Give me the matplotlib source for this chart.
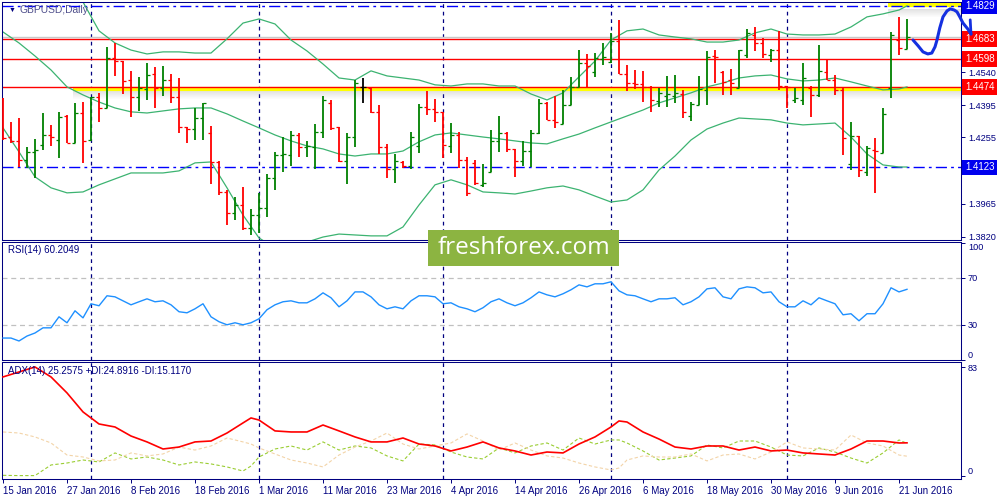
import numpy as np
import matplotlib
matplotlib.use("Agg")
import matplotlib.pyplot as plt
from matplotlib.patches import Rectangle
from matplotlib.transforms import blended_transform_factory

# GBPUSD daily, 15 Jan 2016 - 22 Jun 2016 (one entry per trading day)
highs = [1.4427, 1.4322, 1.4339, 1.4213, 1.4248, 1.4361, 1.4309, 1.4366, 1.4352, 1.4405,
         1.4409, 1.4431, 1.4449, 1.4650, 1.4667, 1.4588, 1.4545, 1.4519, 1.4580, 1.4562,
         1.4567, 1.4532, 1.4514, 1.4300, 1.4383, 1.4405, 1.4304, 1.4151, 1.4025, 1.3994,
         1.4038, 1.3942, 1.4012, 1.4095, 1.4191, 1.4256, 1.4283, 1.4274, 1.4239, 1.4313,
         1.4435, 1.4418, 1.4300, 1.4274, 1.4505, 1.4514, 1.4470, 1.4396, 1.4226, 1.4182,
         1.4151, 1.4278, 1.4401, 1.4457, 1.4422, 1.4366, 1.4317, 1.4278, 1.4169, 1.4156,
         1.4138, 1.4287, 1.4348, 1.4278, 1.4204, 1.4239, 1.4287, 1.4422, 1.4409, 1.4435,
         1.4462, 1.4519, 1.4636, 1.4619, 1.4623, 1.4667, 1.4711, 1.4768, 1.4571, 1.4549,
         1.4545, 1.4479, 1.4470, 1.4523, 1.4527, 1.4462, 1.4409, 1.4523, 1.4632, 1.4636,
         1.4545, 1.4553, 1.4636, 1.4728, 1.4737, 1.4689, 1.4641, 1.4720, 1.4479, 1.4470,
         1.4580, 1.4479, 1.4658, 1.4597, 1.4527, 1.4470, 1.4322, 1.4261, 1.4217, 1.4252,
         1.4383, 1.4715, 1.4781, 1.4772]
lows = [1.4243, 1.4230, 1.4125, 1.4121, 1.4077, 1.4199, 1.4217, 1.4165, 1.4230, 1.4230,
        1.4143, 1.4239, 1.4322, 1.4383, 1.4523, 1.4444, 1.4344, 1.4370, 1.4418, 1.4383,
        1.4435, 1.4405, 1.4274, 1.4230, 1.4243, 1.4243, 1.4051, 1.4003, 1.3872, 1.3894,
        1.3850, 1.3828, 1.3837, 1.3907, 1.4025, 1.4103, 1.4130, 1.4169, 1.4169, 1.4116,
        1.4252, 1.4287, 1.4147, 1.4051, 1.4213, 1.4405, 1.4361, 1.4182, 1.4077, 1.4055,
        1.4121, 1.4116, 1.4186, 1.4352, 1.4322, 1.4165, 1.4186, 1.4121, 1.3998, 1.4047,
        1.4038, 1.4103, 1.4191, 1.4191, 1.4082, 1.4130, 1.4125, 1.4269, 1.4331, 1.4296,
        1.4313, 1.4396, 1.4475, 1.4470, 1.4519, 1.4571, 1.4580, 1.4532, 1.4457, 1.4466,
        1.4409, 1.4366, 1.4387, 1.4387, 1.4405, 1.4339, 1.4326, 1.4396, 1.4396, 1.4492,
        1.4440, 1.4440, 1.4470, 1.4602, 1.4632, 1.4602, 1.4584, 1.4462, 1.4383, 1.4405,
        1.4396, 1.4344, 1.4431, 1.4505, 1.4440, 1.4178, 1.4112, 1.4082, 1.4086, 1.4012,
        1.4186, 1.4427, 1.4615, 1.4641]
opens = [1.4256, 1.4256, 1.4239, 1.4156, 1.4191, 1.4221, 1.4265, 1.4243, 1.4348, 1.4230,
         1.4361, 1.4243, 1.4431, 1.4383, 1.4602, 1.4588, 1.4505, 1.4431, 1.4466, 1.4532,
         1.4470, 1.4505, 1.4431, 1.4300, 1.4291, 1.4339, 1.4274, 1.4147, 1.4016, 1.3924,
         1.3959, 1.3859, 1.3915, 1.3946, 1.4077, 1.4178, 1.4178, 1.4265, 1.4213, 1.4213,
         1.4278, 1.4405, 1.4300, 1.4151, 1.4256, 1.4475, 1.4470, 1.4366, 1.4213, 1.4116,
         1.4147, 1.4130, 1.4217, 1.4387, 1.4379, 1.4366, 1.4217, 1.4265, 1.4156, 1.4143,
         1.4047, 1.4103, 1.4239, 1.4274, 1.4204, 1.4151, 1.4195, 1.4274, 1.4405, 1.4331,
         1.4313, 1.4396, 1.4475, 1.4580, 1.4540, 1.4597, 1.4584, 1.4676, 1.4532, 1.4492,
         1.4488, 1.4475, 1.4414, 1.4435, 1.4435, 1.4444, 1.4348, 1.4396, 1.4462, 1.4610,
         1.4540, 1.4505, 1.4470, 1.4615, 1.4702, 1.4667, 1.4615, 1.4636, 1.4479, 1.4418,
         1.4418, 1.4470, 1.4440, 1.4540, 1.4505, 1.4462, 1.4138, 1.4261, 1.4103, 1.4199,
         1.4186, 1.4470, 1.4680, 1.4641]
closes = [1.4252, 1.4239, 1.4156, 1.4191, 1.4199, 1.4265, 1.4256, 1.4344, 1.4230, 1.4361,
          1.4239, 1.4431, 1.4383, 1.4602, 1.4588, 1.4501, 1.4431, 1.4470, 1.4527, 1.4470,
          1.4505, 1.4431, 1.4300, 1.4291, 1.4339, 1.4405, 1.4147, 1.4016, 1.3924, 1.3959,
          1.3859, 1.3915, 1.3946, 1.4077, 1.4178, 1.4182, 1.4265, 1.4213, 1.4217, 1.4278,
          1.4418, 1.4296, 1.4151, 1.4256, 1.4492, 1.4475, 1.4366, 1.4213, 1.4116, 1.4151,
          1.4130, 1.4256, 1.4387, 1.4379, 1.4366, 1.4221, 1.4265, 1.4156, 1.4012, 1.4055,
          1.4055, 1.4239, 1.4274, 1.4204, 1.4151, 1.4195, 1.4274, 1.4405, 1.4331, 1.4322,
          1.4396, 1.4475, 1.4580, 1.4567, 1.4602, 1.4606, 1.4676, 1.4532, 1.4492, 1.4488,
          1.4475, 1.4418, 1.4449, 1.4444, 1.4449, 1.4366, 1.4401, 1.4466, 1.4606, 1.4606,
          1.4497, 1.4492, 1.4636, 1.4711, 1.4667, 1.4619, 1.4636, 1.4479, 1.4475, 1.4427,
          1.4514, 1.4440, 1.4545, 1.4505, 1.4462, 1.4252, 1.4261, 1.4112, 1.4208, 1.4195,
          1.4357, 1.4702, 1.4645, 1.4693]

date_labels = ['15 Jan 2016', '27 Jan 2016', '8 Feb 2016', '18 Feb 2016', '1 Mar 2016',
               '11 Mar 2016', '23 Mar 2016', '4 Apr 2016', '14 Apr 2016', '26 Apr 2016',
               '6 May 2016', '18 May 2016', '30 May 2016', '9 Jun 2016', '21 Jun 2016']
month_starts = [11, 32, 55, 76, 98]   # 1 Feb, 1 Mar, 1 Apr, 2 May, 1 Jun

# Bollinger bands read every second bar
bb_idx = list(range(0, 113, 2)) + [113]
bb_upper = [np.nan, np.nan, np.nan, np.nan, 1.4960, 1.4846, 1.4720, 1.4667, 1.4636, 1.4619,
            1.4628, 1.4628, 1.4623, 1.4623, 1.4685, 1.4754, 1.4772, 1.4750, 1.4680, 1.4632,
            1.4575, 1.4514, 1.4505, 1.4545, 1.4523, 1.4514, 1.4505, 1.4484, 1.4479, 1.4488,
            1.4488, 1.4479, 1.4479, 1.4444, 1.4418, 1.4449, 1.4519, 1.4588, 1.4680, 1.4720,
            1.4728, 1.4702, 1.4693, 1.4685, 1.4671, 1.4671, 1.4680, 1.4711, 1.4728, 1.4706,
            1.4702, 1.4702, 1.4706, 1.4737, 1.4781, 1.4794, 1.4811, 1.4829]
bb_mid = [1.4715, 1.4667, 1.4610, 1.4549, 1.4475, 1.4440, 1.4409, 1.4383, 1.4366, 1.4361,
          1.4370, 1.4379, 1.4383, 1.4383, 1.4357, 1.4326, 1.4296, 1.4265, 1.4239, 1.4217,
          1.4204, 1.4182, 1.4173, 1.4182, 1.4182, 1.4195, 1.4235, 1.4265, 1.4274, 1.4265,
          1.4256, 1.4248, 1.4239, 1.4230, 1.4226, 1.4248, 1.4269, 1.4296, 1.4322, 1.4348,
          1.4374, 1.4405, 1.4427, 1.4449, 1.4475, 1.4492, 1.4514, 1.4523, 1.4527, 1.4510,
          1.4501, 1.4505, 1.4514, 1.4497, 1.4479, 1.4462, 1.4466, 1.4475]
bb_lower = [1.4296, 1.4191, 1.4082, 1.4034, 1.4012, 1.4016, 1.4047, 1.4073, 1.4099, 1.4099,
            1.4099, 1.4108, 1.4143, 1.4147, 1.4034, 1.3915, 1.3815, 1.3771, 1.3763, 1.3797,
            1.3819, 1.3832, 1.3828, 1.3824, 1.3824, 1.3863, 1.3959, 1.4047, 1.4069, 1.4047,
            1.4016, 1.4012, 1.4007, 1.4020, 1.4034, 1.4042, 1.4025, 1.3998, 1.3972, 1.3981,
            1.4025, 1.4112, 1.4173, 1.4243, 1.4291, 1.4317, 1.4339, 1.4335, 1.4331, 1.4317,
            1.4309, 1.4313, 1.4317, 1.4256, 1.4182, 1.4134, 1.4125, 1.4125]

rsi = [18.7, 18.7, 16.2, 20.4, 23.0, 27.4, 27.4, 36.8, 31.7, 41.9,
       35.9, 47.9, 46.2, 54.7, 53.8, 50.4, 47.0, 49.6, 52.1, 49.6,
       50.4, 47.0, 41.1, 40.2, 43.6, 47.9, 36.8, 32.6, 30.0, 31.7,
       30.0, 31.7, 35.1, 42.8, 47.0, 49.6, 50.4, 48.7, 48.7, 52.1,
       57.2, 53.0, 45.3, 50.4, 58.0, 58.0, 53.8, 47.0, 43.6, 45.3,
       43.6, 50.4, 54.7, 54.7, 53.8, 47.9, 48.7, 45.3, 43.6, 41.1,
       44.5, 49.6, 52.1, 48.7, 46.2, 48.7, 53.0, 58.0, 55.5, 53.8,
       56.4, 59.8, 64.0, 62.3, 64.9, 64.9, 66.6, 58.9, 55.5, 54.7,
       52.1, 49.6, 52.1, 52.1, 53.0, 47.0, 49.6, 53.8, 60.6, 61.5,
       53.8, 52.1, 60.6, 62.3, 61.5, 57.2, 58.0, 49.6, 45.3, 45.3,
       50.4, 47.0, 53.0, 50.4, 47.9, 38.5, 39.4, 33.4, 39.4, 39.4,
       47.9, 61.5, 58.0, 60.2]

adx_idx = [0, 2, 4, 6, 8, 10, 12, 14, 16, 18, 20, 22, 24, 26, 28, 30, 31, 32, 34, 36,
           38, 40, 42, 44, 46, 48, 50, 52, 54, 56, 58, 60, 62, 64, 66, 68, 70, 72, 74, 76,
           77, 78, 80, 82, 84, 86, 88, 90, 92, 94, 96, 98, 100, 102, 104, 106, 108, 110, 112, 113]
adx = [75.6, 79.4, 83.2, 75.6, 63.4, 48.9, 39.7, 37.4, 30.5, 26.0, 20.6, 22.1, 26.0, 26.7,
       32.8, 40.5, 44.3, 42.7, 34.4, 33.6, 33.6, 38.9, 34.4, 29.8, 26.0, 26.0, 29.0, 24.4,
       22.9, 19.1, 22.1, 26.0, 21.4, 19.1, 16.0, 18.3, 17.6, 24.4, 29.8, 37.4, 42.0, 41.2,
       33.6, 28.2, 22.1, 20.6, 22.9, 22.9, 19.8, 22.1, 19.1, 19.8, 17.6, 16.8, 16.0, 20.6,
       26.7, 26.7, 25.2, 25.3]
plus_di = [0.5, 0.3, 0.3, 8.4, 9.9, 12.2, 10.7, 17.6, 13.0, 14.5, 12.2, 8.4, 10.7, 9.2,
           6.9, 3.8, 7.6, 14.5, 20.6, 22.9, 19.8, 26.0, 19.8, 22.9, 21.4, 15.3, 11.5, 24.4,
           23.7, 18.3, 14.5, 13.0, 21.4, 17.6, 22.9, 25.2, 19.8, 29.0, 24.4, 27.5, 27.5, 25.2,
           19.1, 12.2, 13.7, 15.3, 23.7, 21.4, 26.7, 26.7, 22.1, 16.0, 15.3, 21.4, 18.3, 13.7,
           9.9, 17.6, 27.5, 24.9]
minus_di = [33.6, 32.8, 29.8, 25.2, 16.0, 14.5, 11.5, 12.2, 17.6, 15.3, 16.8, 22.1, 19.8, 22.9,
            29.0, 26.0, 24.4, 21.4, 16.8, 12.2, 9.9, 6.9, 16.0, 22.1, 26.7, 32.8, 24.4, 20.6,
            22.9, 25.2, 32.1, 26.7, 19.8, 25.2, 19.8, 15.3, 13.7, 9.9, 6.9, 4.6, 6.1, 12.2,
            15.3, 14.5, 14.5, 16.8, 11.5, 16.0, 16.8, 13.0, 18.3, 26.0, 21.4, 20.6, 19.8, 31.3,
            25.2, 22.9, 16.0, 15.1]

# levels drawn on the chart
red_levels = [1.4683, 1.4598, 1.4474]
blue_levels = [1.4829, 1.4123]
yellow_low = (1.4474, 8.75)     # price, first bar
yellow_high = (1.4829, 110.6)
price_ticks = [1.3820, 1.3965, 1.4110, 1.4255, 1.4395, 1.4540]

# hand drawn forecast (bar index, price)
sketch_bar = [113.75, 114.4, 115.0, 115.6, 116.1, 116.5, 116.75, 117.1, 117.5, 118.0,
              118.4, 118.9, 119.25, 119.6, 120.0, 120.6, 121.0]
sketch_price = [1.4680, 1.4654, 1.4628, 1.4619, 1.4623, 1.4650, 1.4680, 1.4733, 1.4781, 1.4807,
                1.4816, 1.4811, 1.4803, 1.4781, 1.4754, 1.4728, 1.4706]

navy = '#000080'
plt.rcParams['font.family'] = ['Liberation Sans', 'DejaVu Sans']
fs = 6.6

fig = plt.figure(figsize=(10, 5), dpi=100)
ax = fig.add_axes([0.002, 0.52, 0.959, 0.476])
ax_rsi = fig.add_axes([0.002, 0.28, 0.959, 0.236])
ax_adx = fig.add_axes([0.002, 0.042, 0.959, 0.234])

xmax = 119.75
for a in (ax, ax_rsi, ax_adx):
    a.set_xlim(-0.125, xmax)
    for s in a.spines.values():
        s.set_color(navy)
        s.set_linewidth(0.75)
    a.yaxis.tick_right()
    a.tick_params(axis='y', colors=navy, labelsize=fs, length=3, pad=2, width=0.7)
    for m in month_starts:
        a.axvline(m, color=navy, lw=0.9, ls=(0, (3, 3)), zorder=1)

# ---- price panel
ax.set_ylim(1.3806, 1.4846)
ax.set_xticks([])
ax.set_yticks(price_ticks)
ax.set_yticklabels(['%.4f' % p for p in price_ticks])

px = 0.000437  # one pixel of price


def shadow(level, x0, depth):
    for k in range(8):
        ax.fill_between([x0, xmax], level - depth - k * px, level - depth - (k + 1) * px,
                        color='gray', alpha=0.22 * (1 - k / 8), lw=0, zorder=1)


lvl, x0 = yellow_low
ax.hlines(lvl - 2 * px, x0, xmax, color='yellow', lw=3, zorder=1.5)
shadow(lvl, x0, 4 * px)
lvl, x0 = yellow_high
ax.hlines(lvl + 1 * px, x0, xmax, color='yellow', lw=3, zorder=1.5)
shadow(lvl, x0, 3 * px)

ax.axhline(closes[-1], color='#c8c8c8', lw=1, zorder=1)
for p in red_levels:
    ax.axhline(p, color='red', lw=1, zorder=2)
for p in blue_levels:
    ax.axhline(p, color='#0000ff', lw=1, ls=(0, (8, 3, 2, 3)), zorder=2)

idx = np.arange(len(closes))
o = np.array(opens)
c = np.array(closes)
cols = np.where(c > o, '#008000', np.where(c < o, '#ff0000', '#000000'))
ax.vlines(idx, lows, highs, colors=cols, lw=1.3, zorder=3)
ax.hlines(o, idx - 0.4, idx, colors=cols, lw=0.9, zorder=3)
ax.hlines(c, idx, idx + 0.4, colors=cols, lw=0.9, zorder=3)

bb_col = '#3cb371'
for band in (bb_upper, bb_mid, bb_lower):
    ax.plot(bb_idx, band, color=bb_col, lw=0.9, zorder=2.5)

tr = blended_transform_factory(ax.transAxes, ax.transData)
for p, col in [(1.4829, '#0000ee'), (1.4683, '#ff0000'), (1.4598, '#ff0000'),
               (1.4474, '#ff0000'), (1.4123, '#0000ee')]:
    ax.text(1.004, p, '%.4f' % p, transform=tr, color='white', fontsize=fs + 0.4,
            va='center', ha='left', clip_on=False, zorder=6,
            bbox=dict(boxstyle='square,pad=0.3', fc=col, ec='none'))

ax.plot(sketch_bar, sketch_price, color='#1530e0', lw=2.2, clip_on=False,
        solid_capstyle='round', zorder=7)
ax.plot([sketch_bar[-1] - 0.1, sketch_bar[-1]], [1.4768, sketch_price[-1]],
        color='#1530e0', lw=2.0, clip_on=False, solid_capstyle='round', zorder=7)

ax.text(0.007, 0.965, '\u25bc', transform=ax.transAxes, fontsize=5, color=navy,
        va='center', ha='left')
ax.text(0.018, 0.965, 'GBPUSD,Daily', transform=ax.transAxes, fontsize=fs + 0.8,
        color='#50508c', va='center', ha='left')

# ---- RSI panel
ax_rsi.set_ylim(0, 100.5)
ax_rsi.set_xticks([])
ax_rsi.plot(idx, rsi, color='#1e90ff', lw=1, zorder=3)
for lv in (30, 70):
    ax_rsi.axhline(lv, color='#c0c0c0', lw=0.9, ls=(0, (4, 3)), zorder=1)
ax_rsi.set_yticks([0, 30, 70, 100])
ax_rsi.set_yticklabels(['0', '30', '70', '100'])
lbls = ax_rsi.get_yticklabels()
lbls[0].set_va('bottom')
lbls[3].set_va('top')
ax_rsi.text(0.006, 0.93, 'RSI(14) 60.2049', transform=ax_rsi.transAxes, fontsize=fs + 0.4,
            color=navy, va='center', ha='left')

# ---- ADX panel
ax_adx.set_ylim(-2.3, 87.0)
ax_adx.plot(adx_idx, plus_di, color='#9acd32', lw=0.8, ls=(0, (3, 2)), zorder=2)
ax_adx.plot(adx_idx, minus_di, color='#f3d4a8', lw=0.8, ls=(0, (3, 2)), zorder=2)
ax_adx.plot(adx_idx, adx, color='#ff0000', lw=1.2, zorder=3)
ax_adx.set_yticks([0, 83])
ax_adx.set_yticklabels(['0', '83'])
ax_adx.get_yticklabels()[0].set_va('bottom')
ax_adx.text(0.006, 0.925, 'ADX(14) 25.2575 +DI:24.8916 -DI:15.1170', transform=ax_adx.transAxes,
            fontsize=fs + 0.4, color=navy, va='center', ha='left', zorder=5)
ax_adx.set_xticks(range(0, 113, 8))
ax_adx.set_xticklabels(date_labels, ha='left')
ax_adx.tick_params(axis='x', colors=navy, labelsize=fs + 0.4, length=3, pad=2, width=0.7)

# watermark
fig.patches.append(Rectangle((0.428, 0.468), 0.191, 0.072, transform=fig.transFigure,
                             fc='#8cb441', ec='none', zorder=10))
fig.text(0.5235, 0.505, 'freshforex.com', color='white', fontsize=17.5, family='Open Sans',
         ha='center', va='center', zorder=11)

fig.savefig('out.png', dpi=100, facecolor='white')
